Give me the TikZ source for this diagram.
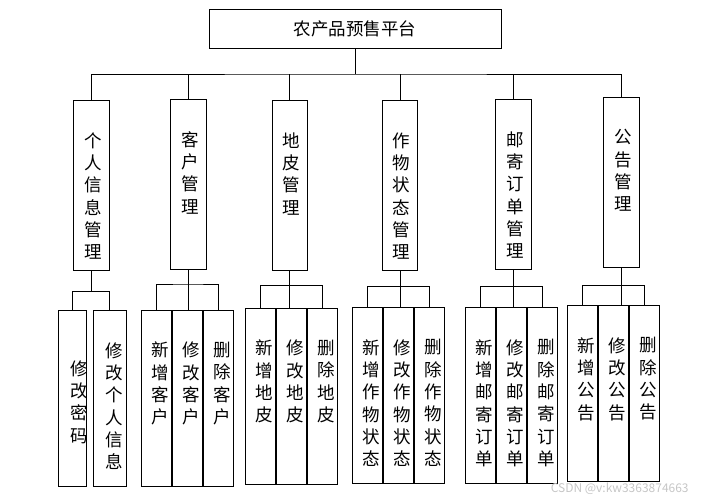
\documentclass[tikz,border=0pt]{standalone}
\usepackage{fontspec}
\setmainfont{Noto Sans CJK SC}
\usetikzlibrary{positioning}

\begin{document}
\begin{tikzpicture}[
  x=1pt,y=-1pt,
  link/.style={line width=1pt},
  topbox/.style={draw,line width=1pt,minimum width=292pt,minimum height=39pt,
    inner sep=0pt,font=\fontsize{17.5}{21}\selectfont},
  module/.style={draw,line width=1pt,anchor=north,minimum width=36pt,
    minimum height=170pt,inner sep=0pt},
  leaf/.style={draw,line width=1pt,anchor=north,minimum width=30pt,
    minimum height=176pt,inner sep=0pt},
  vtext/.style={align=center,inner sep=0pt,font=\fontsize{17.5}{22.3}\selectfont},
  ltext/.style={vtext,xshift=4pt}
]
  \useasboundingbox (0,0) rectangle (709,501);

  \node[topbox] (root) at (355,28.5) {农产品预售平台};

  % modules
  \node[module] (m1) at (91.8,100.3) {};
  \node[module] (m2) at (188.8,99.3) {};
  \node[module,minimum width=35pt] (m3) at (289.8,100.3) {};
  \node[module,minimum width=35pt] (m4) at (400,100.3) {};
  \node[module] (m5) at (513.8,99.3) {};
  \node[module] (m6) at (621.3,97.3) {};

  \node[vtext,below=32pt of m1.north,xshift=1.5pt] (t1) {个\\人\\信\\息\\管\\理};
  \node[vtext,below=32pt of m2.north,xshift=1.5pt] (t2) {客\\户\\管\\理};
  \node[vtext,below=32pt of m3.north,xshift=1.5pt] (t3) {地\\皮\\管\\理};
  \node[vtext,below=32pt of m4.north,xshift=1.5pt] (t4) {作\\物\\状\\态\\管\\理};
  \node[vtext,below=32pt of m5.north,xshift=1.5pt] (t5) {邮\\寄\\订\\单\\管\\理};
  \node[vtext,below=32pt of m6.north,xshift=1.5pt] (t6) {公\\告\\管\\理};

  % leaves
  \node[leaf,minimum width=28pt] (l11) at (72.3,310.3) {};
  \node[leaf,minimum width=33pt,right=6pt of l11] (l12) {};

  \node[leaf] (l21) at (156.5,309.8) {};
  \node[leaf,right=0pt of l21] (l22) {};
  \node[leaf,right=0pt of l22] (l23) {};

  \node[leaf] (l31) at (260.3,307.8) {};
  \node[leaf,right=0pt of l31] (l32) {};
  \node[leaf,right=0pt of l32] (l33) {};

  \node[leaf] (l41) at (367.5,307.3) {};
  \node[leaf,right=0pt of l41] (l42) {};
  \node[leaf,right=0pt of l42] (l43) {};

  \node[leaf] (l51) at (480.3,307.3) {};
  \node[leaf,right=0pt of l51] (l52) {};
  \node[leaf,right=0pt of l52] (l53) {};

  \node[leaf] (l61) at (582.3,305.3) {};
  \node[leaf,right=0pt of l61] (l62) {};
  \node[leaf,right=0pt of l62] (l63) {};

  \node[ltext,below=50pt of l11.north,xshift=3pt] (s11) {修\\改\\密\\码};
  \node[ltext,below=32pt of l12.north] (s12) {修\\改\\个\\人\\信\\息};
  \node[ltext,below=32pt of l21.north] (s21) {新\\增\\客\\户};
  \node[ltext,below=32pt of l22.north] (s22) {修\\改\\客\\户};
  \node[ltext,below=32pt of l23.north] (s23) {删\\除\\客\\户};
  \node[ltext,below=32pt of l31.north] (s31) {新\\增\\地\\皮};
  \node[ltext,below=32pt of l32.north] (s32) {修\\改\\地\\皮};
  \node[ltext,below=32pt of l33.north] (s33) {删\\除\\地\\皮};
  \node[ltext,below=32pt of l41.north] (s41) {新\\增\\作\\物\\状\\态};
  \node[ltext,below=32pt of l42.north] (s42) {修\\改\\作\\物\\状\\态};
  \node[ltext,below=32pt of l43.north] (s43) {删\\除\\作\\物\\状\\态};
  \node[ltext,below=32pt of l51.north] (s51) {新\\增\\邮\\寄\\订\\单};
  \node[ltext,below=32pt of l52.north] (s52) {修\\改\\邮\\寄\\订\\单};
  \node[ltext,below=32pt of l53.north] (s53) {删\\除\\邮\\寄\\订\\单};
  \node[ltext,below=32pt of l61.north] (s61) {新\\增\\公\\告};
  \node[ltext,below=32pt of l62.north] (s62) {修\\改\\公\\告};
  \node[ltext,below=32pt of l63.north] (s63) {删\\除\\公\\告};

  % root to modules
  \coordinate (bus) at (root.south |- 0,74);
  \draw[link] (root.south) -- (bus);
  \draw[link] (m1.north) |- (bus) -| (m6.north);
  \draw[link] (m2.north) -- (m2.north |- bus);
  \draw[link] (m3.north) -- (m3.north |- bus);
  \draw[link] (m4.north) -- (m4.north |- bus);
  \draw[link] (m5.north) -- (m5.north |- bus);

  % modules to leaves
  \coordinate (j1) at (m1.south |- 0,291.7);
  \draw[link] (m1.south) -- (j1);
  \draw[link] (l11.north) |- (j1) -| (l12.north);

  \coordinate (j2) at (m2.south |- 0,284);
  \draw[link] (m2.south) -- (m2.south |- l22.north);
  \draw[link] (l21.north) |- (j2) -| (l23.north);

  \coordinate (j3) at (m3.south |- 0,285.3);
  \draw[link] (m3.south) -- (m3.south |- l32.north);
  \draw[link] (l31.north) |- (j3) -| (l33.north);

  \coordinate (j4) at (m4.south |- 0,286.7);
  \draw[link] (m4.south) -- (m4.south |- l42.north);
  \draw[link] (l41.north) |- (j4) -| (l43.north);

  \coordinate (j5) at (m5.south |- 0,286.7);
  \draw[link] (m5.south) -- (m5.south |- l52.north);
  \draw[link] (l51.north) |- (j5) -| (l53.north);

  \coordinate (j6) at (m6.south |- 0,285.3);
  \draw[link] (m6.south) -- (m6.south |- l62.north);
  \draw[link] (l61.north) |- (j6) -| (l63.north);

  \node[text=gray!45,font=\fontsize{12}{14}\selectfont] (wm) at (619.7,488.3)
    {CSDN @v:kw3363874663};
\end{tikzpicture}
\end{document}
